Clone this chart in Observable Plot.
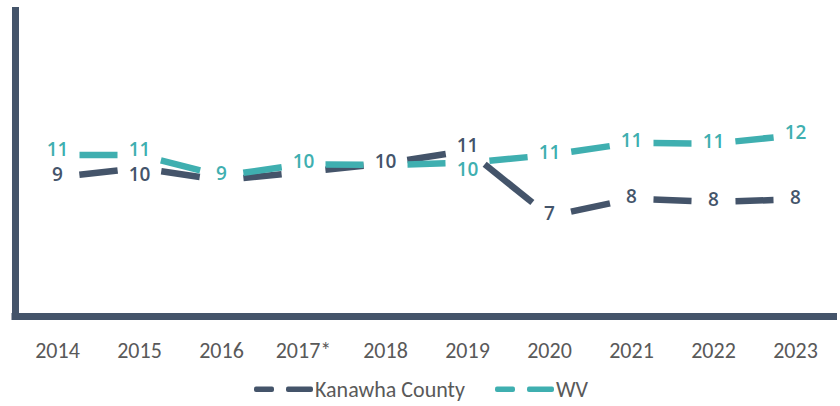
<!DOCTYPE html>
<html>
<head>
<meta charset="utf-8">
<script src="https://cdn.jsdelivr.net/npm/d3@7"></script>
<script src="https://cdn.jsdelivr.net/npm/@observablehq/plot@0.6"></script>
<style>
  html, body { margin: 0; padding: 0; background: #fff; }
  #chart svg { display: block; }
  .legend { display: flex; justify-content: center; align-items: center; gap: 0; height: 34px;
            font-family: Carlito, Calibri, Lato, sans-serif; font-size: 22px; color: #595959; }
  .legend .item { display: flex; align-items: center; }
  .legend .item + .item { margin-left: 28px; }
  .legend svg { display: block; margin-right: 1px; }
</style>
</head>
<body>
<div id="chart"></div>
<div class="legend" id="legend"></div>
<script>
// ---- data ----
const years = ["2014", "2015", "2016", "2017*", "2018", "2019", "2020", "2021", "2022", "2023"];
const seriesNames = ["Kanawha County", "WV"];
const kanawha = [9.1, 9.7, 8.9, 9.45, 10.0, 10.85, 6.55, 7.7, 7.5, 7.65];
const wv = [10.55, 10.55, 9.2, 9.95, 9.9, 10.05, 10.55, 11.35, 11.3, 11.85];
// data-label placement relative to the point ("none" = label hidden behind the other series' label)
const kanawhaLabelPlace = ["center", "below", "none", "none", "center", "above", "center", "center", "center", "center"];
const wvLabelPlace = ["above", "above", "center", "center", "none", "below", "center", "center", "center", "center"];

const colors = {"Kanawha County": "#44546A", "WV": "#3FAFB0"};
const seriesValues = [kanawha, wv];
const seriesPlaces = [kanawhaLabelPlace, wvLabelPlace];

const points = seriesNames.flatMap((s, k) =>
  years.map((year, i) => ({series: s, year, value: seriesValues[k][i], place: seriesPlaces[k][i]})));

const segments = seriesNames.flatMap((s, k) =>
  years.slice(1).map((year, i) => ({
    series: s, x1: years[i], y1: seriesValues[k][i], x2: year, y2: seriesValues[k][i + 1]
  })));

const labelFont = "'Open Sans', 'Noto Sans', sans-serif";
const placeDy = {center: -2, above: -5, below: 7};

const labelMarks = ["center", "above", "below"].map(place =>
  Plot.text(points.filter(d => d.place === place), {
    x: "year", y: "value", text: d => String(Math.round(d.value)),
    fill: d => colors[d.series], fontSize: 19, fontWeight: 600, fontFamily: labelFont,
    dy: placeDy[place]
  }));

const chart = Plot.plot({
  width: 840,
  height: 372,
  marginLeft: 15,
  marginRight: 3,
  marginTop: 10,
  marginBottom: 56,
  x: {type: "point", domain: years, padding: 0.51, label: null},
  y: {domain: [0, 20], axis: null},
  marks: [
    Plot.axisX({tickSize: 0, tickPadding: 26, fontSize: 22, fontFamily: "Carlito, Calibri, Lato, sans-serif",
                fill: "#595959", label: null}),
    Plot.arrow(segments, {
      x1: "x1", y1: "y1", x2: "x2", y2: "y2",
      stroke: d => colors[d.series], strokeWidth: 6.5,
      headLength: 0, insetStart: 22, insetEnd: 22, strokeLinecap: "butt"
    }),
    ...labelMarks,
    Plot.frame({anchor: "left", stroke: "#44546A", strokeWidth: 7}),
    Plot.ruleY([0], {stroke: "#44546A", strokeWidth: 7, insetLeft: -3.5})
  ]
});
document.getElementById("chart").appendChild(chart);

// legend
const legend = document.getElementById("legend");
for (const s of seriesNames) {
  const item = document.createElement("div");
  item.className = "item";
  item.innerHTML = `<svg width="62" height="10"><rect x="2" y="2.5" width="20" height="5.5" rx="2" fill="${colors[s]}"/>` +
    `<rect x="34" y="2.5" width="27" height="5.5" rx="2" fill="${colors[s]}"/></svg><span>${s}</span>`;
  legend.appendChild(item);
}
</script>
</body>
</html>
